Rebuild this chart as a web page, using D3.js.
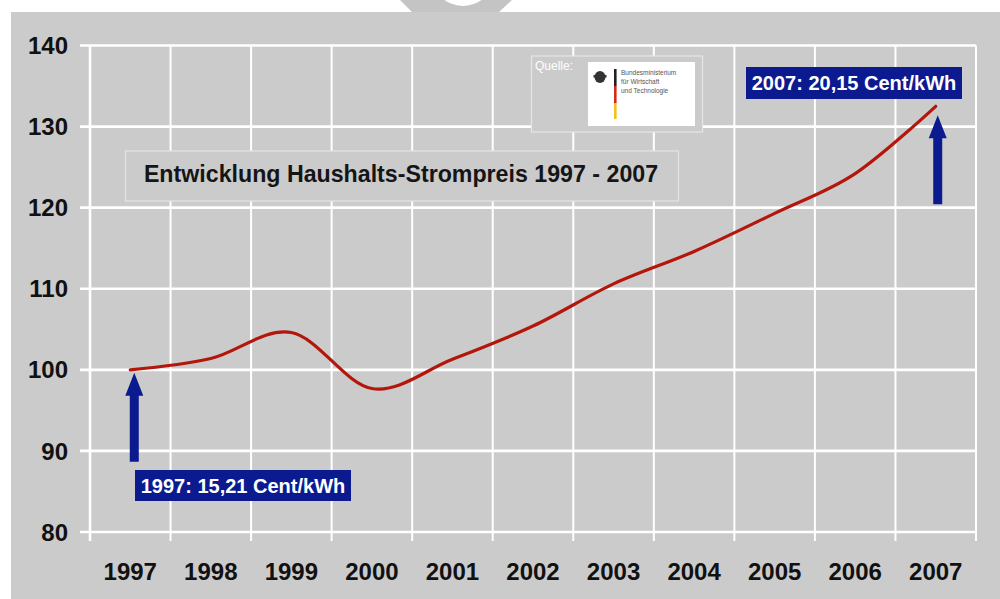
<!DOCTYPE html>
<html>
<head>
<meta charset="utf-8">
<script src="https://cdn.jsdelivr.net/npm/d3@7/dist/d3.min.js"></script>
<style>
  html, body { margin: 0; padding: 0; background: #ffffff; }
  svg { display: block; }
  text { font-family: "Liberation Sans", Arial, Helvetica, sans-serif; }
</style>
</head>
<body>
<svg id="chart" width="1000" height="599"></svg>
<script>
// Household electricity price index (1997 = 100)
const years = ["1997", "1998", "1999", "2000", "2001", "2002", "2003", "2004", "2005", "2006", "2007"];
const priceIndex = [100, 101.4, 104.6, 97.7, 101.3, 105.4, 110.6, 114.6, 119.3, 124.2, 132.5];
const yTicks = [80, 90, 100, 110, 120, 130, 140];

const titleText = "Entwicklung Haushalts-Strompreis 1997 - 2007";
const startLabel = "1997: 15,21 Cent/kWh";
const endLabel = "2007: 20,15 Cent/kWh";
const sourceLabel = "Quelle:";
const ministryLines = ["Bundesministerium", "für Wirtschaft", "und Technologie"];

const W = 1000, H = 599;
const plot = { left: 90, right: 976, top: 45.5, bottom: 532 };
const GREY = "#cbcbcb";
const NAVY = "#0b1b8f";

const svg = d3.select("#chart");

// scales
const x = d3.scalePoint().domain(years).range([plot.left, plot.right]).padding(0.5);
const xBand = d3.scaleBand().domain(years).range([plot.left, plot.right]);
const y = d3.scaleLinear().domain([80, 140]).range([plot.bottom, plot.top]);

// page background
svg.append("rect").attr("x", 0).attr("y", 0).attr("width", W).attr("height", H).attr("fill", "#ffffff");

// decorative ring fragment above the panel
const deco = svg.append("g");
deco.append("path")
  .attr("d", "M400,0 L512,0 L498,13 L413,13 Z")
  .attr("fill", "#c4c4c4");
deco.append("circle").attr("cx", 463).attr("cy", -25.5).attr("r", 31.5).attr("fill", "#ffffff");

// grey panel
svg.append("rect").attr("x", 11).attr("y", 12).attr("width", W - 11).attr("height", H - 12).attr("fill", GREY);

// grid
const grid = svg.append("g").attr("stroke", "#ffffff");
grid.selectAll("line.h")
  .data(yTicks)
  .join("line")
  .attr("class", "h")
  .attr("x1", plot.left - 10).attr("x2", plot.right)
  .attr("y1", d => y(d)).attr("y2", d => y(d))
  .attr("stroke-width", 2.6);

const vLines = years.map(d => xBand(d)).concat([plot.right]);
grid.selectAll("line.v")
  .data(vLines)
  .join("line")
  .attr("class", "v")
  .attr("x1", d => d).attr("x2", d => d)
  .attr("y1", plot.top).attr("y2", plot.bottom + 9)
  .attr("stroke-width", d => (d === plot.left ? 2.6 : 2));

// axis labels
svg.append("g")
  .selectAll("text")
  .data(yTicks)
  .join("text")
  .attr("x", 68)
  .attr("y", d => y(d))
  .attr("dy", "0.36em")
  .attr("text-anchor", "end")
  .attr("font-size", 24)
  .attr("font-weight", "bold")
  .attr("fill", "#111111")
  .text(d => d);

svg.append("g")
  .selectAll("text")
  .data(years)
  .join("text")
  .attr("x", d => x(d))
  .attr("y", 580)
  .attr("text-anchor", "middle")
  .attr("font-size", 24)
  .attr("font-weight", "bold")
  .attr("fill", "#111111")
  .text(d => d);

// title box
const tb = svg.append("g");
tb.append("rect")
  .attr("x", 125.5).attr("y", 151).attr("width", 553).attr("height", 50)
  .attr("fill", GREY).attr("stroke", "#e4e4e4").attr("stroke-width", 1.2);
tb.append("text")
  .attr("x", 401).attr("y", 182)
  .attr("text-anchor", "middle")
  .attr("font-size", 23.2)
  .attr("font-weight", "bold")
  .attr("fill", "#151515")
  .text(titleText);

// source box with ministry mark
const sb = svg.append("g");
sb.append("rect")
  .attr("x", 531.5).attr("y", 56).attr("width", 171).attr("height", 76)
  .attr("fill", GREY).attr("stroke", "#e6e6e6").attr("stroke-width", 1.2);
sb.append("text")
  .attr("x", 535).attr("y", 70)
  .attr("font-size", 12)
  .attr("fill", "#ffffff")
  .text(sourceLabel);
sb.append("rect")
  .attr("x", 588).attr("y", 62).attr("width", 107).attr("height", 64)
  .attr("fill", "#ffffff");
// eagle emblem
sb.append("ellipse").attr("cx", 600).attr("cy", 77).attr("rx", 5.5).attr("ry", 6).attr("fill", "#333333");
sb.append("rect").attr("x", 593.5).attr("y", 75).attr("width", 13).attr("height", 2.5).attr("fill", "#333333");
// flag stripe
sb.append("rect").attr("x", 614).attr("y", 69).attr("width", 2.6).attr("height", 17).attr("fill", "#222222");
sb.append("rect").attr("x", 614).attr("y", 86).attr("width", 2.6).attr("height", 17).attr("fill", "#d42a1c");
sb.append("rect").attr("x", 614).attr("y", 103).attr("width", 2.6).attr("height", 16).attr("fill", "#f2c21b");
sb.append("g")
  .selectAll("text")
  .data(ministryLines)
  .join("text")
  .attr("x", 621)
  .attr("y", (d, i) => 75 + i * 9)
  .attr("font-size", 6.5)
  .attr("fill", "#555555")
  .text(d => d);

// price index curve
const line = d3.line()
  .x((d, i) => x(years[i]))
  .y(d => y(d))
  .curve(d3.curveCatmullRom.alpha(0));

svg.append("path")
  .datum(priceIndex)
  .attr("d", line)
  .attr("fill", "none")
  .attr("stroke", "#b3170c")
  .attr("stroke-width", 3.2)
  .attr("stroke-linecap", "round");

// annotation arrows (tip, length)
function arrow(cx, tipY, baseY) {
  const hw = 9, sw = 4.5, hh = 23;
  return `M${cx},${tipY} L${cx + hw},${tipY + hh} L${cx + sw},${tipY + hh} L${cx + sw},${baseY} ` +
         `L${cx - sw},${baseY} L${cx - sw},${tipY + hh} L${cx - hw},${tipY + hh} Z`;
}
const firstX = x(years[0]), lastX = x(years[years.length - 1]);
const firstY = y(priceIndex[0]), lastY = y(priceIndex[priceIndex.length - 1]);

svg.append("path").attr("d", arrow(firstX + 4, firstY + 3, firstY + 92)).attr("fill", NAVY);
svg.append("path").attr("d", arrow(lastX + 2, lastY + 9, lastY + 98)).attr("fill", NAVY);

// value labels
function valueBox(bx, by, bw, bh, label) {
  const g = svg.append("g");
  g.append("rect").attr("x", bx).attr("y", by).attr("width", bw).attr("height", bh).attr("fill", NAVY);
  g.append("text")
    .attr("x", bx + bw / 2).attr("y", by + bh / 2)
    .attr("dy", "0.36em")
    .attr("text-anchor", "middle")
    .attr("font-size", 20)
    .attr("font-weight", "bold")
    .attr("fill", "#ffffff")
    .text(label);
}
valueBox(135, 470, 216, 31, startLabel);
valueBox(746, 67, 216, 32, endLabel);
</script>
</body>
</html>
